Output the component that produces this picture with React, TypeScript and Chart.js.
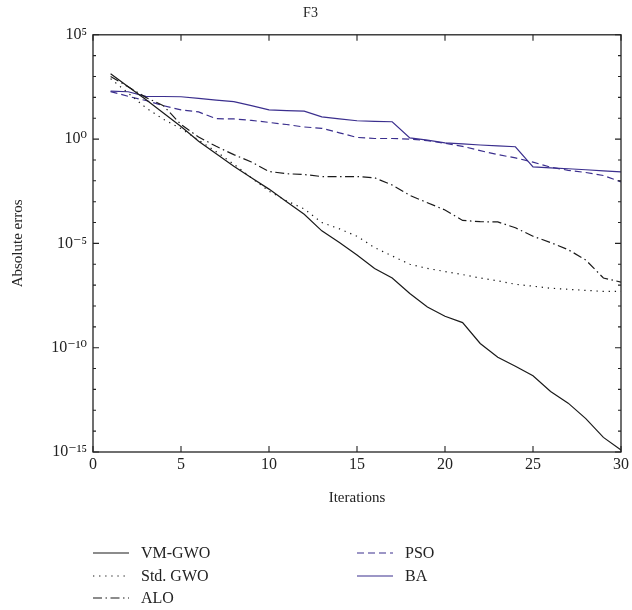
import { useEffect, useRef } from 'react';
import { Chart, registerables } from 'chart.js';

Chart.register(...registerables);

const iterations = [1, 2, 3, 4, 5, 6, 7, 8, 9, 10, 11, 12, 13, 14, 15, 16, 17, 18, 19, 20, 21, 22, 23, 24, 25, 26, 27, 28, 29, 30];

const vmGwo = [1.35e3, 3.2e2, 7.9e1, 1.8e1, 4.0, 0.79, 0.2, 5.0e-2, 1.4e-2, 4.0e-3, 1.0e-3, 2.5e-4, 4.0e-5, 1.1e-5, 2.8e-6, 6.3e-7, 2.2e-7, 4.0e-8, 8.9e-9, 3.2e-9, 1.6e-9, 1.6e-10, 3.5e-11, 1.3e-11, 4.5e-12, 7.9e-13, 2.2e-13, 4.0e-14, 5.0e-15, 1.26e-15];
const stdGwo = [7.9e2, 1.6e2, 3.2e1, 8.9, 3.2, 0.89, 0.25, 6.3e-2, 1.4e-2, 3.2e-3, 1.1e-3, 4.5e-4, 1.0e-4, 5.0e-5, 2.2e-5, 6.3e-6, 2.5e-6, 1.0e-6, 6.3e-7, 4.5e-7, 3.2e-7, 2.2e-7, 1.6e-7, 1.1e-7, 8.9e-8, 7.1e-8, 6.3e-8, 5.6e-8, 5.0e-8, 5.0e-8];
const alo = [1.0e3, 3.2e2, 1.0e2, 4.0e1, 5.0, 1.26, 0.45, 0.18, 8.0e-2, 2.8e-2, 2.2e-2, 2.0e-2, 1.6e-2, 1.6e-2, 1.6e-2, 1.4e-2, 6.3e-3, 2.0e-3, 8.9e-4, 4.0e-4, 1.26e-4, 1.1e-4, 1.07e-4, 5.6e-5, 2.2e-5, 1.1e-5, 5.0e-6, 1.6e-6, 2.2e-7, 1.4e-7];
const pso = [1.9e2, 1.12e2, 7.1e1, 4.0e1, 2.5e1, 2.0e1, 9.5, 9.3, 7.9, 6.3, 5.0, 3.8, 3.3, 2.0, 1.2, 1.07, 1.07, 1.0, 0.85, 0.63, 0.45, 0.28, 0.18, 0.126, 7.9e-2, 4.5e-2, 3.2e-2, 2.5e-2, 1.8e-2, 8.9e-3];
const ba = [2.0e2, 1.86e2, 1.12e2, 1.1e2, 1.07e2, 8.9e1, 7.4e1, 6.2e1, 4.0e1, 2.5e1, 2.3e1, 2.2e1, 1.17e1, 9.3, 7.6, 7.1, 6.8, 1.15, 0.89, 0.66, 0.59, 0.52, 0.47, 0.43, 4.7e-2, 4.2e-2, 3.8e-2, 3.4e-2, 3.0e-2, 2.7e-2];

const seriesNames = ['VM-GWO', 'Std. GWO', 'ALO', 'PSO', 'BA'];
const xTickValues = [0, 5, 10, 15, 20, 25, 30];
const yDecades = [-15, -14, -13, -12, -11, -10, -9, -8, -7, -6, -5, -4, -3, -2, -1, 0, 1, 2, 3, 4, 5];
const yMajorDecades = [-15, -10, -5, 0, 5];
const yTickLabels = ['10\u207B\u00B9\u2075', '10\u207B\u00B9\u2070', '10\u207B\u2075', '10\u2070', '10\u2075'];

const BLACK = '#1a1a1a';
const BLUE = '#3b2f8e';
const FONT = "'Liberation Serif', 'DejaVu Serif', serif";

const styles = [
  { color: BLACK, dash: [] as number[] },
  { color: BLACK, dash: [1.3, 4.8] },
  { color: BLACK, dash: [9, 3.5, 1.5, 3.5] },
  { color: BLUE, dash: [7, 4] },
  { color: BLUE, dash: [] as number[] },
];

const framePlugin = {
  id: 'frameTicks',
  afterDraw(chart: any) {
    const ctx = chart.ctx;
    const { left, right, top, bottom } = chart.chartArea;
    const xs = chart.scales.x;
    const ys = chart.scales.y;
    ctx.save();
    ctx.strokeStyle = '#222';
    ctx.lineWidth = 1.3;
    ctx.setLineDash([]);
    ctx.strokeRect(left, top, right - left, bottom - top);
    ctx.lineWidth = 1.1;
    ctx.beginPath();
    xTickValues.forEach((v) => {
      const px = xs.getPixelForValue(v);
      ctx.moveTo(px, bottom);
      ctx.lineTo(px, bottom - 6);
      ctx.moveTo(px, top);
      ctx.lineTo(px, top + 6);
    });
    yDecades.forEach((k) => {
      const py = ys.getPixelForValue(Math.pow(10, k));
      const len = yMajorDecades.includes(k) ? 6 : 3;
      ctx.moveTo(left, py);
      ctx.lineTo(left + len, py);
      ctx.moveTo(right, py);
      ctx.lineTo(right - len, py);
    });
    ctx.stroke();

    // legend
    const rows = [
      { i: 0, x: 93, y: 553 },
      { i: 1, x: 93, y: 576 },
      { i: 2, x: 93, y: 598 },
      { i: 3, x: 357, y: 553 },
      { i: 4, x: 357, y: 576 },
    ];
    ctx.font = `16px ${FONT}`;
    ctx.textBaseline = 'middle';
    ctx.textAlign = 'left';
    rows.forEach((r) => {
      const st = styles[r.i];
      ctx.strokeStyle = st.color;
      ctx.lineWidth = 1.2;
      ctx.setLineDash(st.dash);
      ctx.beginPath();
      ctx.moveTo(r.x, r.y);
      ctx.lineTo(r.x + 36, r.y);
      ctx.stroke();
      ctx.setLineDash([]);
      ctx.fillStyle = '#222';
      ctx.fillText(seriesNames[r.i], r.x + 48, r.y + 1);
    });
    ctx.restore();
  },
};

export default function App() {
  const ref = useRef<HTMLCanvasElement | null>(null);
  useEffect(() => {
    document.body.style.margin = '0';
    const all = [vmGwo, stdGwo, alo, pso, ba];
    const chart = new Chart(ref.current as HTMLCanvasElement, {
      type: 'line',
      data: {
        labels: iterations,
        datasets: all.map((d, i) => ({
          label: seriesNames[i],
          data: d.map((v, j) => ({ x: iterations[j], y: v })),
          borderColor: styles[i].color,
          borderDash: styles[i].dash,
          borderWidth: 1.2,
          pointRadius: 0,
          fill: false,
          tension: 0,
        })),
      },
      options: {
        animation: false,
        responsive: false,
        events: [],
        layout: { padding: { top: 0, right: 11, bottom: 98, left: 0 } },
        plugins: {
          legend: { display: false },
          tooltip: { enabled: false },
          title: {
            display: true,
            text: 'F3',
            color: '#222',
            font: { family: FONT, size: 14, weight: 'normal' },
            padding: { top: 5, bottom: 13 },
          },
        },
        scales: {
          x: {
            type: 'linear',
            min: 0,
            max: 30,
            afterBuildTicks: (scale: any) => {
              scale.ticks = xTickValues.map((v) => ({ value: v }));
            },
            afterFit: (scale: any) => {
              scale.height = 60;
            },
            grid: { display: true, drawOnChartArea: false, drawTicks: false },
            border: { display: false },
            ticks: {
              color: '#222',
              font: { family: FONT, size: 16 },
              padding: 3,
              maxRotation: 0,
              autoSkip: false,
            },
            title: {
              display: true,
              text: 'Iterations',
              color: '#222',
              font: { family: FONT, size: 15 },
              padding: { top: 0, bottom: 5 },
            },
          },
          y: {
            type: 'logarithmic',
            min: 1e-15,
            max: 1e5,
            afterBuildTicks: (scale: any) => {
              scale.ticks = yDecades.map((k) => ({ value: Math.pow(10, k) }));
            },
            afterFit: (scale: any) => {
              scale.width = 93;
            },
            grid: { display: true, drawOnChartArea: false, drawTicks: false },
            border: { display: false },
            ticks: {
              color: '#222',
              font: { family: FONT, size: 16 },
              padding: 6,
              autoSkip: false,
              callback: (value: any) => {
                const k = Math.round(Math.log10(Number(value)));
                const idx = yMajorDecades.indexOf(k);
                return idx >= 0 ? yTickLabels[idx] : '';
              },
            },
            title: {
              display: true,
              text: 'Absolute erros',
              color: '#222',
              font: { family: FONT, size: 15 },
              padding: { top: 9, bottom: 0 },
            },
          },
        },
      } as any,
      plugins: [framePlugin],
    });
    return () => chart.destroy();
  }, []);
  return <canvas ref={ref} width={632} height={610} style={{ display: 'block' }} />;
}
